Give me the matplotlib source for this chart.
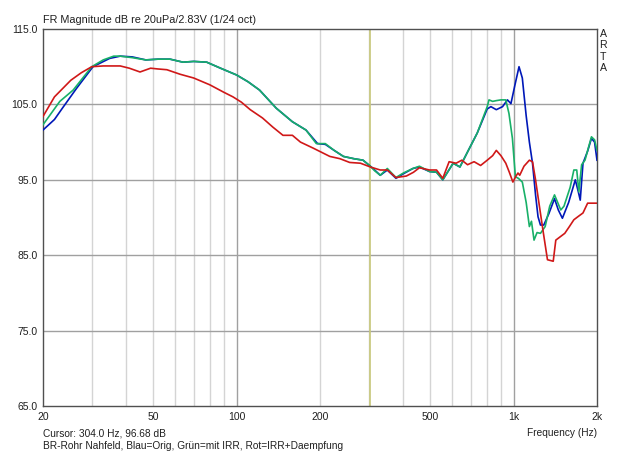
import matplotlib
matplotlib.use("Agg")
import matplotlib.pyplot as plt
from matplotlib.ticker import FixedLocator, NullFormatter

# Blau = Orig
blue_f = [20, 22, 23.5, 26.4, 30.3, 34.8, 38, 42, 47, 52, 57.5, 64, 70, 78, 87.5,
          100, 110, 121, 139, 159, 178, 196, 209, 225, 243, 265, 286, 304, 315, 330,
          350, 376, 400, 433, 457, 497, 527, 555, 605, 640, 682, 739, 803, 828, 866,
          912, 950, 978, 1010, 1046, 1075, 1110, 1140, 1170, 1200, 1225, 1250, 1285,
          1340, 1405, 1450, 1500, 1580, 1670, 1710, 1740, 1780, 1850, 1910, 1960, 2000]
blue_db = [101.6, 103.0, 104.5, 107.1, 110.0, 111.1, 111.4, 111.3, 110.9, 111.0, 111.0,
           110.6, 110.7, 110.6, 109.8, 108.9, 108.0, 106.9, 104.5, 102.7, 101.6, 99.8,
           99.7, 98.9, 98.1, 97.8, 97.6, 96.8, 96.3, 95.6, 96.3, 95.2, 95.8, 96.5, 96.7,
           96.1, 96.0, 95.0, 97.2, 96.7, 98.7, 101.2, 104.4, 104.7, 104.3, 104.7, 105.6,
           105.1, 107.5, 110.0, 108.5, 103.5, 100.0, 97.2, 93.0, 90.1, 89.0, 89.0, 90.5,
           92.5, 91.0, 89.9, 92.0, 95.0, 93.5, 92.3, 97.2, 98.8, 100.5, 100.0, 97.6]

# Gruen = mit IRR
green_f = [20, 23, 25.7, 30, 33, 36, 38, 42, 47, 52, 57.5, 64, 70, 78, 87.5, 100, 110,
           121, 139, 159, 178, 194, 209, 225, 243, 265, 286, 304, 315, 330, 350, 376,
           400, 433, 457, 497, 527, 555, 605, 640, 682, 739, 803, 815, 840, 866, 900,
           937, 962, 990, 1015, 1040, 1075, 1110, 1140, 1160, 1185, 1215, 1250, 1300,
           1350, 1405, 1480, 1520, 1600, 1650, 1690, 1720, 1760, 1810, 1870, 1910,
           1960, 2000]
green_db = [102.3, 105.4, 106.9, 110.0, 110.9, 111.4, 111.4, 111.2, 110.9, 111.0, 111.0,
            110.6, 110.7, 110.6, 109.8, 108.9, 108.0, 106.9, 104.5, 102.7, 101.6, 99.8,
            99.8, 98.9, 98.1, 97.8, 97.6, 96.8, 96.2, 95.6, 96.5, 95.3, 95.9, 96.5, 96.8,
            96.1, 96.0, 95.0, 97.2, 96.7, 98.7, 101.2, 104.7, 105.6, 105.4, 105.5, 105.6,
            105.6, 103.8, 100.5, 95.4, 95.2, 94.7, 92.0, 88.8, 89.5, 87.0, 88.0, 87.9,
            88.8, 91.5, 93.0, 91.0, 91.5, 94.0, 96.3, 96.3, 93.4, 97.0, 97.6, 99.5, 100.7,
            100.3, 98.9]

# Rot = IRR + Daempfung
red_f = [20, 22, 25.2, 27.5, 30, 33, 38, 41, 44.8, 48.9, 52, 56, 62.5, 70, 80, 90, 97,
         104, 112, 124, 135, 147, 159, 170, 189, 217, 236, 256, 280, 304, 330, 350, 376,
         410, 435, 457, 497, 527, 555, 585, 620, 650, 682, 720, 760, 803, 840, 866, 900,
         937, 965, 994, 1020, 1037, 1052, 1090, 1140, 1170, 1200, 1230, 1280, 1325, 1390,
         1420, 1480, 1530, 1590, 1650, 1720, 1780, 1850, 2000]
red_db = [103.4, 106.0, 108.2, 109.2, 110.0, 110.1, 110.1, 109.8, 109.3, 109.8, 109.7,
          109.6, 109.0, 108.5, 107.6, 106.6, 106.0, 105.3, 104.3, 103.2, 102.0, 100.9,
          100.9, 100.0, 99.2, 98.1, 97.8, 97.3, 97.2, 96.7, 96.3, 96.3, 95.3, 95.5, 96.0,
          96.6, 96.3, 96.3, 95.2, 97.4, 97.2, 97.6, 97.0, 97.4, 96.9, 97.6, 98.2, 98.9,
          98.2, 97.2, 96.0, 94.7, 95.5, 95.9, 95.6, 96.8, 97.6, 97.4, 95.0, 92.3, 88.0,
          84.4, 84.2, 87.0, 87.5, 87.9, 88.8, 89.7, 90.2, 90.6, 91.9, 91.9]

x_ticks = [20, 50, 100, 200, 500, 1000, 2000]
x_labels = ["20", "50", "100", "200", "500", "1k", "2k"]
y_ticks = [65, 75, 85, 95, 105, 115]
cursor_f = 304.0

plt.rcParams['font.family'] = ['Liberation Sans', 'DejaVu Sans']
fs = 7.3

fig = plt.figure(figsize=(6.4, 4.55), dpi=100)
ax = fig.add_axes([43 / 640, 49 / 455, 554 / 640, 377 / 455])
ax.set_xscale("log")
ax.set_xlim(20, 2000)
ax.set_ylim(65, 115)

minor = [30, 40, 50, 60, 70, 80, 90, 200, 300, 400, 500, 600, 700, 800, 900]
for f in minor:
    ax.axvline(f, color="#d4d4d4", lw=1.0, zorder=1)
for f in [100, 1000]:
    ax.axvline(f, color="#a0a0a0", lw=1.0, zorder=1)
for y in y_ticks[1:-1]:
    ax.axhline(y, color="#a0a0a0", lw=1.0, zorder=1)
ax.axvline(cursor_f, color="#c8c87a", lw=1.2, zorder=1)

ax.plot(blue_f, blue_db, color="#0018b8", lw=1.2, zorder=3)
ax.plot(green_f, green_db, color="#18b068", lw=1.2, zorder=4)
ax.plot(red_f, red_db, color="#d01818", lw=1.2, zorder=5)

ax.xaxis.set_major_locator(FixedLocator(x_ticks))
ax.xaxis.set_minor_locator(FixedLocator([]))
ax.xaxis.set_minor_formatter(NullFormatter())
ax.set_xticklabels(x_labels)
ax.set_yticks(y_ticks)
ax.set_yticklabels(["%.1f" % v for v in y_ticks])
ax.tick_params(length=0, labelsize=fs + 0.2, colors="#202020", pad=4)
for s in ax.spines.values():
    s.set_color("#505050")
    s.set_linewidth(1.0)

fig.text(43 / 640, 1 - 20 / 455, "FR Magnitude dB re 20uPa/2.83V (1/24 oct)",
         fontsize=fs + 0.5, va="center", ha="left", color="#202020")
fig.text(603 / 640, 1 - 51 / 455, "A\nR\nT\nA", fontsize=fs + 0.3, ha="center",
         va="center", linespacing=1.15, color="#202020")
fig.text(43 / 640, 1 - 433 / 455, "Cursor: 304.0 Hz, 96.68 dB",
         fontsize=fs, va="center", ha="left", color="#202020")
fig.text(597 / 640, 1 - 433 / 455, "Frequency (Hz)",
         fontsize=fs, va="center", ha="right", color="#202020")
fig.text(43 / 640, 1 - 446 / 455,
         "BR-Rohr Nahfeld, Blau=Orig, Grün=mit IRR, Rot=IRR+Daempfung",
         fontsize=fs, va="center", ha="left", color="#202020")

fig.savefig("out.png", dpi=100)
